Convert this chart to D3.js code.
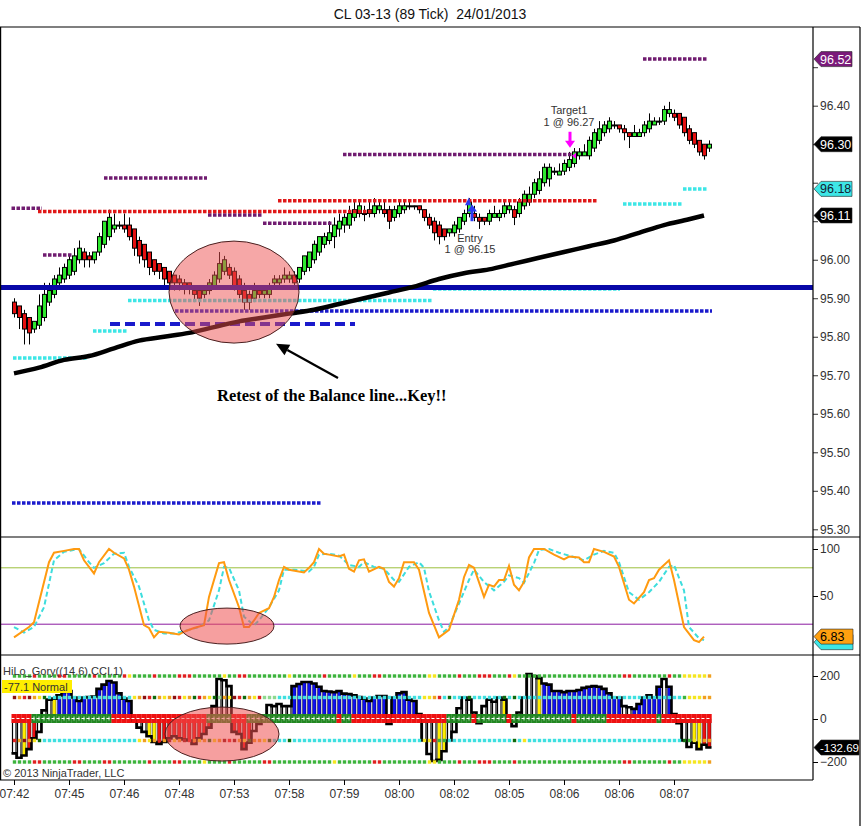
<!DOCTYPE html>
<html><head><meta charset="utf-8">
<script src="https://d3js.org/d3.v7.min.js"></script>
<style>body{margin:0;background:#fff;}svg{display:block;font-family:"Liberation Sans",Arial,sans-serif;}</style>
</head><body><svg id="c" width="863" height="826"></svg>
<script>
// ---------------- DATA ----------------
const title = "CL 03-13 (89 Tick)  24/01/2013";
const barOpen = [95.89,95.88,95.86,95.85,95.82,95.83,95.85,95.89,95.91,95.94,
95.95,95.96,95.97,96.00,96.02,96.01,96.00,96.02,96.04,96.06,
96.08,96.09,96.09,96.09,96.08,96.05,96.04,96.02,96.00,95.99,
95.98,95.97,95.96,95.95,95.94,95.94,95.92,95.92,95.91,95.92,
95.93,95.95,95.97,95.98,95.97,95.95,95.92,95.91,95.90,95.92,
95.91,95.91,95.94,95.94,95.95,95.95,95.96,95.95,95.97,95.98,
96.00,96.02,96.04,96.05,96.06,96.08,96.09,96.09,96.11,96.12,
96.12,96.12,96.12,96.13,96.13,96.13,96.11,96.12,96.13,96.14,
96.14,96.14,96.13,96.11,96.10,96.09,96.08,96.07,96.07,96.08,
96.10,96.12,96.12,96.11,96.11,96.10,96.11,96.11,96.12,96.13,
96.13,96.12,96.14,96.15,96.17,96.18,96.20,96.21,96.23,96.22,
96.23,96.24,96.25,96.27,96.27,96.27,96.29,96.31,96.33,96.34,
96.35,96.35,96.34,96.33,96.32,96.32,96.33,96.34,96.35,96.36,
96.36,96.38,96.38,96.38,96.37,96.34,96.33,96.31,96.30,96.29];
const barHigh = [95.90,95.88,95.87,95.85,95.84,95.91,95.94,95.94,95.96,95.98,
95.99,96.01,96.03,96.05,96.03,96.02,96.02,96.07,96.10,96.13,
96.12,96.10,96.12,96.11,96.08,96.06,96.04,96.02,96.00,95.99,
95.98,95.97,95.96,95.96,95.95,95.94,95.93,95.92,95.93,95.95,
95.97,96.02,96.01,95.99,95.98,95.96,95.94,95.92,95.94,95.92,
95.93,95.94,95.96,95.96,95.98,95.97,95.97,95.98,96.01,96.02,
96.05,96.06,96.07,96.10,96.11,96.12,96.12,96.14,96.15,96.15,
96.14,96.15,96.16,96.15,96.15,96.14,96.14,96.15,96.15,96.15,
96.14,96.14,96.13,96.12,96.11,96.10,96.08,96.08,96.10,96.11,
96.13,96.16,96.14,96.12,96.11,96.13,96.14,96.13,96.15,96.15,
96.14,96.16,96.18,96.19,96.21,96.23,96.25,96.25,96.24,96.25,
96.26,96.28,96.29,96.29,96.30,96.32,96.34,96.36,96.36,96.37,
96.36,96.35,96.35,96.33,96.35,96.34,96.36,96.38,96.37,96.37,
96.40,96.41,96.39,96.38,96.37,96.35,96.33,96.31,96.30,96.31];
const barLow = [95.85,95.82,95.78,95.78,95.81,95.82,95.84,95.88,95.90,95.93,
95.94,95.95,95.96,95.99,95.98,95.98,95.99,96.01,96.03,96.05,
96.07,96.08,96.07,96.05,96.01,95.99,95.98,95.96,95.96,95.95,
95.93,95.92,95.92,95.92,95.91,95.91,95.89,95.88,95.90,95.91,
95.93,95.94,95.96,95.95,95.92,95.90,95.87,95.87,95.89,95.90,
95.90,95.90,95.93,95.93,95.94,95.94,95.93,95.94,95.96,95.97,
95.99,96.01,96.03,96.04,96.03,96.06,96.07,96.08,96.10,96.11,
96.10,96.11,96.11,96.12,96.11,96.08,96.10,96.11,96.12,96.13,
96.13,96.12,96.10,96.08,96.05,96.04,96.05,96.06,96.06,96.07,
96.09,96.11,96.10,96.08,96.09,96.09,96.11,96.10,96.11,96.12,
96.09,96.11,96.13,96.14,96.16,96.17,96.19,96.19,96.22,96.22,
96.22,96.23,96.24,96.26,96.27,96.26,96.28,96.30,96.32,96.33,
96.34,96.33,96.31,96.29,96.32,96.32,96.32,96.33,96.35,96.35,
96.35,96.37,96.36,96.34,96.32,96.30,96.29,96.27,96.26,96.28];
const barClose = [95.86,95.85,95.82,95.81,95.84,95.88,95.91,95.92,95.95,95.96,
95.98,96.00,96.01,96.03,96.00,96.00,96.02,96.06,96.10,96.11,
96.09,96.09,96.08,96.06,96.03,96.01,96.00,95.98,95.97,95.97,
95.95,95.94,95.94,95.94,95.93,95.93,95.91,95.90,95.92,95.94,
95.96,95.99,96.00,95.96,95.93,95.91,95.89,95.89,95.92,95.91,
95.92,95.93,95.95,95.95,95.96,95.96,95.94,95.98,96.01,96.02,
96.04,96.06,96.06,96.07,96.09,96.10,96.11,96.12,96.13,96.14,
96.12,96.13,96.14,96.14,96.12,96.10,96.13,96.14,96.14,96.14,
96.14,96.13,96.11,96.09,96.07,96.06,96.06,96.08,96.09,96.11,
96.12,96.15,96.11,96.10,96.10,96.12,96.12,96.12,96.14,96.14,
96.11,96.15,96.17,96.17,96.20,96.21,96.24,96.24,96.23,96.23,
96.25,96.26,96.28,96.28,96.28,96.31,96.33,96.34,96.35,96.36,
96.35,96.34,96.33,96.32,96.33,96.33,96.35,96.36,96.36,96.36,
96.39,96.39,96.37,96.35,96.33,96.31,96.30,96.28,96.27,96.30];

// moving average (bar, price)
const maLine = [[0,95.705],[5,95.72],[10,95.74],[15,95.75],[20,95.77],[25,95.79],[30,95.80],[35,95.81],[40,95.825],[45,95.84],[50,95.85],[55,95.86],[60,95.87],[65,95.885],[70,95.90],[75,95.915],[80,95.93],[85,95.95],[90,95.965],[95,95.975],[100,95.99],[105,96.005],[110,96.02],[115,96.035],[120,96.05],[125,96.07],[130,96.09],[135,96.105],[138,96.115]];

// horizontal level segments: price, from bar, to bar
const purpleLevels = [[96.134,-0.5,5.6],[96.212,18,38.6],[96.012,5.8,11.6],[96.116,38.8,49.6],[96.095,49.8,63.6],[96.273,65.8,111.8],[96.521,125.8,138.6]];
const redLevels = [[96.125,4.8,71.6],[96.153,52.8,116.6]];
const cyanLevels = [[95.745,-0.2,14.8],[95.815,15.8,22.6],[95.894,22.8,83.6],[95.924,83.8,121.2],[96.145,121.8,133.6],[96.184,133.8,138.6]];
const blueDotLevels = [[95.867,32.2,139.6],[95.368,-0.4,61.6]];
const blueDashLevels = [[95.833,19.2,68.2]];
const balanceLine = 95.928;

const priceTicks = [95.30,95.40,95.50,95.60,95.70,95.80,95.90,96.00,96.10,96.20,96.30,96.40,96.50];
const priceTickLabelsHidden = [96.10,96.20,96.30,96.50]; // covered by the price markers
const priceTags = [{v:96.521,label:"96.52",kind:"purple"},{v:96.30,label:"96.30",kind:"black"},{v:96.184,label:"96.18",kind:"cyan"},{v:96.115,label:"96.11",kind:"black"}];

// stochastics (bar, value)
const stochK = [[0,6],[3,17],[4,22],[7,86],[8,96],[10,98],[12,100],[13,100],[14,88],[16,74],[17,86],[19,100],[20,96],[22,90],[23,78],[24,60],[26,19],[27,16],[28,6],[29,12],[31,11],[33,9],[34,12],[36,16],[38,19],[39,49],[41,85],[42,86],[43,67],[45,38],[46,17],[47,17],[48,24],[49,32],[51,37],[52,49],[53,67],[54,81],[55,78],[58,75],[59,80],[60,86],[61,100],[62,95],[63,94],[65,92],[66,94],[67,79],[68,76],[69,88],[70,89],[71,76],[73,81],[74,79],[75,65],[76,60],[77,69],[78,86],[80,86],[81,78],[83,32],[85,6],[87,14],[89,46],[90,70],[91,83],[92,80],[94,49],[95,62],[96,60],[97,67],[98,67],[99,82],[100,62],[101,56],[102,65],[103,91],[104,100],[106,100],[108,94],[110,89],[111,92],[113,91],[114,86],[115,86],[116,100],[118,97],[120,92],[121,81],[123,46],[124,42],[126,54],[127,67],[128,69],[129,78],[131,88],[132,67],[134,17],[136,3],[137,1],[138,6.83]];
const stochD = [[0,17],[2,11],[4,17],[6,38],[8,88],[10,97],[13,100],[15,86],[16,80],[18,85],[20,95],[22,96],[23,81],[25,60],[27,24],[28,14],[30,10],[32,10],[35,14],[37,17],[39,24],[41,56],[42,81],[43,80],[45,56],[46,28],[48,19],[49,24],[51,38],[53,56],[54,78],[56,78],[59,76],[60,81],[61,94],[63,95],[65,93],[67,83],[69,81],[70,86],[72,81],[74,79],[76,67],[77,65],[79,81],[81,86],[82,80],[83,55],[85,24],[86,12],[87,17],[89,42],[91,67],[92,78],[94,65],[96,56],[98,65],[99,72],[101,69],[102,64],[104,85],[105,99],[107,100],[109,96],[111,93],[114,88],[116,94],[118,98],[120,96],[121,86],[123,54],[125,46],[127,54],[129,65],[131,81],[132,83],[134,56],[135,17],[137,5],[138,3]];
const stochLevels = [80,20];
const stochTicks = [50,100];

// HiLo_Gory CCI histogram
const cciVals = [-160,-180,-170,-140,-90,-60,40,90,95,110,
126,130,100,84,100,102,105,140,160,177,
170,120,95,84,-10,-40,-60,-80,-107,-116,
-107,-90,-80,-90,-95,-100,-116,-90,-70,-40,
60,186,180,153,-60,-70,-140,-110,-56,-23,
9,65,60,70,60,60,153,163,172,172,
165,150,130,128,125,130,118,116,110,102,
95,84,100,107,107,-23,100,120,125,90,
84,23,-100,-163,-195,-190,-150,-100,-60,50,
100,90,30,-20,60,90,80,100,90,-10,
-33,30,100,209,200,190,165,160,130,130,
125,130,130,135,145,150,153,150,140,120,
100,100,60,55,47,70,100,110,100,150,
186,150,23,-20,-100,-130,-110,-140,-120,-132.69];
const cciColors = "KKYRRKKKYB"+"BBBBBBBBBB"+"BBBBKKKYYR"+"RRRRRRRRRR"+"KKKKRRRRKR"+"KKKKKKBBBB"+"BBBBBBBBBB"+"BBBBBKBBBB"+"BKKKKYYKKK"+"KKKKKKKKYR"+"KKKKKYBBBB"+"BBBBBBBBBB"+"BBKKBBBBBB"+"KBKKKKYYRR";
const zeroBand = "rrrrgggggg"+"gggggggggg"+"rrrrrrrrrr"+"rrrrrrrrrg"+"ggggrrrggg"+"gggggggggg"+"gggggrggrr"+"rrrrrrrrrr"+"rrrrrrrggg"+"ggrggggggr"+"gggggggggg"+"ggrggggggr"+"rrrrrrrrrg"+"rrrrrrrrrr";
const dotRowLevels = [200,100,-100,-200];
const dotRows = [
 "ggggrggggr"+"rgggggrggg"+"ggryggggrg"+"gggrrrgggg"+"ggyggrrggg"+"gggggygggg"+"ggrgggggyg"+"ggrrgggggg"+"gggyyggggr"+"gggrrrgggr"+"yggggggggg"+"gggggggggg"+"ggrrgggggg"+"grggyyyyyo",
 "RorRoyGccc"+"cccccccccc"+"ccccyoRrGo"+"yoRryoGroy"+"GloyRrGoyr"+"lllccccccc"+"cccccccccc"+"cccccccccc"+"ccyyorcGcc"+"cGccccccGc"+"Gccccccccc"+"cccccccccc"+"cccccccccc"+"ccccgyyyoo",
 "roRoyGcccc"+"cccccccccc"+"cccccyoyor"+"oRyoRroyoG"+"yoRrRoyGoo"+"yGcccGcccc"+"cccccccccc"+"cccccccccc"+"ccyyrggccc"+"cccccccccc"+"Gcyccccccc"+"cccccccccc"+"cccccccccc"+"ccccGgyyoo",
 "ggggrrgggg"+"ggrrggggrr"+"gggggggrgg"+"ggrrggggyg"+"gggrgggggg"+"rrgggggggg"+"ggggyggggg"+"ggrrgggggg"+"gggyyggggr"+"gggrrrgggg"+"rggggggggg"+"gggggggggg"+"ggrrgggggg"+"grggyyyyyo"];
const cciTicks = [-200,0,200];

const timeBars = [0,11,22,33,44,55,66,77,88,99,110,121,132];
const timeLabels = ["07:42","07:45","07:46","07:48","07:53","07:58","07:59","08:00","08:02","08:05","08:06","08:06","08:07"];

// ---------------- SCALES ----------------
const x = d3.scaleLinear().domain([0,139]).range([14,709]);
const yP = d3.scaleLinear().domain([95.30,96.40]).range([529.3,105.7]);
const yS = d3.scaleLinear().domain([0,100]).range([643,549]);
const yC = d3.scaleLinear().domain([-200,200]).range([762,676]);
const AX = 813, RIGHT = 860;

const svg = d3.select('#c');
svg.append('rect').attr('width',863).attr('height',826).attr('fill','#fff');
const defs = svg.append('defs');
[['clipMain',27,510],['clipStoch',537,118],['clipCci',655,125]].forEach(([id,y0,h])=>{
  defs.append('clipPath').attr('id',id).append('rect').attr('x',1).attr('y',y0).attr('width',AX-1).attr('height',h);
});

svg.append('text').attr('x',430).attr('y',19).attr('text-anchor','middle').attr('font-size',14)
  .style('white-space','pre').attr('fill','#111').text(title);

// ---------------- MAIN PANEL ----------------
const gm = svg.append('g').attr('clip-path','url(#clipMain)');
const idx = d3.range(barClose.length);
gm.selectAll('line.wick').data(idx).join('line').attr('class','wick')
  .attr('x1',i=>x(i)+0.5).attr('x2',i=>x(i)+0.5)
  .attr('y1',i=>yP(barHigh[i])).attr('y2',i=>yP(barLow[i]))
  .attr('stroke','#000').attr('stroke-width',1);
gm.selectAll('rect.body').data(idx).join('rect').attr('class','body')
  .attr('x',i=>x(i)-1.5).attr('width',4)
  .attr('y',i=>yP(Math.max(barOpen[i],barClose[i])))
  .attr('height',i=>Math.max(1,Math.abs(yP(barOpen[i])-yP(barClose[i]))))
  .attr('fill',i=>barClose[i]>barOpen[i]?'#2ee82e':(barClose[i]<barOpen[i]?'#e41010':'#000'))
  .attr('stroke','#000').attr('stroke-width',1);

function levels(arr,col,w,dash){
  gm.selectAll(null).data(arr).join('line')
   .attr('x1',d=>x(d[1])).attr('x2',d=>x(d[2]))
   .attr('y1',d=>yP(d[0])).attr('y2',d=>yP(d[0]))
   .attr('stroke',col).attr('stroke-width',w).attr('stroke-dasharray',dash);
}
levels(purpleLevels,'#701c70',3.5,'3.5,1.5');
levels(redLevels,'#e01818',3.5,'3.5,1.5');
levels(cyanLevels,'#3de6e6',3.5,'3.5,1.5');
levels(blueDotLevels,'#1a1acc',3.5,'3.5,1.5');
levels(blueDashLevels,'#1a1acc',4,'10,5');
gm.append('line').attr('x1',1).attr('x2',AX).attr('y1',yP(balanceLine)).attr('y2',yP(balanceLine))
  .attr('stroke','#0808a8').attr('stroke-width',5);
gm.append('path').datum(maLine).attr('fill','none').attr('stroke','#000').attr('stroke-width',4.5)
  .attr('d',d3.line().x(d=>x(d[0])).y(d=>yP(d[1])).curve(d3.curveMonotoneX));

// entry / target markers
const entryBar = 91, targetBar = 111;
const ex = x(entryBar), tx = x(targetBar)+1;
gm.append('path').attr('d',`M${ex-4},${yP(96.152)+4} L${ex},${yP(96.152)-4} L${ex+2},${yP(96.152)+4} Z`).attr('fill','#2a3af0');
gm.append('line').attr('x1',ex+3).attr('x2',ex+3).attr('y1',yP(96.10)).attr('y2',yP(96.13)).attr('stroke','#2a3af0').attr('stroke-width',3);
gm.append('path').attr('d',`M${ex-2},${yP(96.125)} L${ex+3},${yP(96.125)-7} L${ex+8},${yP(96.125)} Z`).attr('fill','#2a3af0');
gm.append('text').attr('x',ex+1).attr('y',yP(96.15)+40).attr('text-anchor','middle').attr('font-size',11).attr('fill','#333').text('Entry');
gm.append('text').attr('x',ex+1).attr('y',yP(96.15)+51).attr('text-anchor','middle').attr('font-size',11).attr('fill','#333').text('1 @ 96.15');
gm.append('line').attr('x1',tx).attr('x2',tx).attr('y1',yP(96.27)-24).attr('y2',yP(96.27)-14).attr('stroke','#ff00ff').attr('stroke-width',3);
gm.append('path').attr('d',`M${tx-5},${yP(96.27)-15} L${tx+5},${yP(96.27)-15} L${tx},${yP(96.27)-8} Z`).attr('fill','#ff00ff');
gm.append('path').attr('d',`M${tx+2},${yP(96.27)} L${tx+6},${yP(96.27)-3} L${tx+6},${yP(96.27)+3} Z`).attr('fill','#ff00ff');
gm.append('text').attr('x',tx-1).attr('y',yP(96.27)-42).attr('text-anchor','middle').attr('font-size',11).attr('fill','#333').text('Target1');
gm.append('text').attr('x',tx-1).attr('y',yP(96.27)-30).attr('text-anchor','middle').attr('font-size',11).attr('fill','#333').text('1 @ 96.27');

// highlight ellipse + annotation
gm.append('ellipse').attr('cx',x(44)).attr('cy',yP(95.916)).attr('rx',65).attr('ry',51)
  .attr('fill','#ee5050').attr('fill-opacity',0.5).attr('stroke','#4a2020').attr('stroke-width',1);
const arrowTail=[x(64.8),yP(95.693)], arrowTip=[x(52.4),yP(95.782)];
{
  const dx=arrowTip[0]-arrowTail[0], dy=arrowTip[1]-arrowTail[1], L=Math.hypot(dx,dy), ux=dx/L, uy=dy/L;
  const bx=arrowTip[0]-ux*13, by=arrowTip[1]-uy*13;
  gm.append('line').attr('x1',arrowTail[0]).attr('y1',arrowTail[1]).attr('x2',bx).attr('y2',by).attr('stroke','#000').attr('stroke-width',2.2);
  gm.append('path').attr('d',`M${arrowTip[0]},${arrowTip[1]} L${bx-uy*6},${by+ux*6} L${bx+uy*6},${by-ux*6} Z`).attr('fill','#000');
}
gm.append('text').attr('x',x(40.6)).attr('y',yP(95.633)).attr('font-family','"Liberation Serif","Times New Roman",serif')
  .attr('font-weight','bold').attr('font-size',16.5).attr('fill','#000').text('Retest of the Balance line...Key!!');

// price axis
const pa = svg.append('g').attr('transform',`translate(${AX},0)`)
  .call(d3.axisRight(yP).tickValues(priceTicks)
    .tickFormat(d=>priceTickLabelsHidden.some(h=>Math.abs(h-d)<1e-6)?'':d3.format('.2f')(d))
    .tickSize(5).tickPadding(2));
pa.select('.domain').remove();
pa.selectAll('text').attr('font-size',12).attr('fill','#333').attr('font-family','"Liberation Sans",Arial,sans-serif');
pa.selectAll('line').attr('stroke','#333');

function tag(yv,label,fill,txt,w,fs){
  const h=15, g=svg.append('g');
  g.append('path').attr('d',`M${AX+1},${yv} L${AX+8},${yv-h/2} L${AX+w},${yv-h/2} L${AX+w},${yv+h/2} L${AX+8},${yv+h/2} Z`)
    .attr('fill',fill).attr('stroke','#222').attr('stroke-width',0.6);
  if(label) g.append('text').attr('x',AX+7).attr('y',yv+4.5).attr('font-size',fs||12.5).attr('fill',txt).text(label);
}
const tagStyle = {purple:['#7a1a7a','#fff'],black:['#000','#fff'],cyan:['#3de6e6','#123']};
priceTags.forEach(t=>tag(yP(t.v),t.label,tagStyle[t.kind][0],tagStyle[t.kind][1],39));

// ---------------- STOCHASTICS ----------------
const gs = svg.append('g').attr('clip-path','url(#clipStoch)');
gs.append('line').attr('x1',1).attr('x2',AX).attr('y1',yS(stochLevels[0])).attr('y2',yS(stochLevels[0])).attr('stroke','#9cbf3c').attr('stroke-width',1);
gs.append('line').attr('x1',1).attr('x2',AX).attr('y1',yS(stochLevels[1])).attr('y2',yS(stochLevels[1])).attr('stroke','#8a1aa0').attr('stroke-width',1);
const sl = d3.line().x(d=>x(d[0])).y(d=>yS(d[1]));
gs.append('path').datum(stochD).attr('d',sl).attr('fill','none').attr('stroke','#3ddddd').attr('stroke-width',2).attr('stroke-dasharray','5,3');
gs.append('path').datum(stochK).attr('d',sl).attr('fill','none').attr('stroke','#ff9a10').attr('stroke-width',2);
gs.append('ellipse').attr('cx',x(42.6)).attr('cy',yS(18)).attr('rx',47).attr('ry',18)
  .attr('fill','#ee5050').attr('fill-opacity',0.55).attr('stroke','#4a2020').attr('stroke-width',1);
const sa = svg.append('g').attr('transform',`translate(${AX},0)`)
  .call(d3.axisRight(yS).tickValues(stochTicks).tickSize(5).tickPadding(2));
sa.select('.domain').remove();
sa.selectAll('text').attr('font-size',12).attr('fill','#333').attr('font-family','"Liberation Sans",Arial,sans-serif');
tag(yS(stochD[stochD.length-1][1])+2,'','#3de6e6','#000',40);
tag(yS(stochK[stochK.length-1][1]),'6.83','#ffa010','#000',40);

// ---------------- CCI PANEL ----------------
const gc = svg.append('g').attr('clip-path','url(#clipCci)');
const colMap = {B:'#1010ee',R:'#ee1010',Y:'#ffee00',K:'#fff'};
gc.selectAll('rect.h').data(idx).join('rect').attr('class','h')
  .attr('x',i=>x(i)-1.5).attr('width',3.5)
  .attr('y',i=>Math.min(yC(0),yC(cciVals[i]))).attr('height',i=>Math.abs(yC(cciVals[i])-yC(0)))
  .attr('fill',i=>colMap[cciColors[i]]).attr('stroke','#000').attr('stroke-width',i=>cciColors[i]==='K'?1.2:0.4);
const envPts = idx.map(i=>[x(i)-2.5,cciVals[i]]).concat([[x(139)+2.5,cciVals[139]]]);
gc.append('path').datum(envPts).attr('fill','none').attr('stroke','#000').attr('stroke-width',2.6)
  .attr('d',d3.line().x(d=>d[0]).y(d=>yC(d[1])).curve(d3.curveStepAfter));
const dotCol = {g:'#3cb43c',G:'#0d6b0d',r:'#e02020',R:'#8b1010',y:'#f5e61e',o:'#f0a020',c:'#3ee0e0',l:'#8ed88e'};
dotRows.forEach((row,r)=>{
  gc.selectAll(null).data(idx).join('rect')
   .attr('x',i=>x(i)-1.2).attr('y',yC(dotRowLevels[r])-1.7).attr('width',3.4).attr('height',3.4)
   .attr('fill',i=>dotCol[row[i]]||'#3cb43c');
});
gc.selectAll('rect.band').data(idx).join('rect').attr('class','band')
  .attr('x',i=>x(i)-2.5).attr('width',5.2).attr('y',yC(0)-5).attr('height',9)
  .attr('fill',i=>zeroBand[i]==='g'?'#228822':'#ee1111');
gc.append('line').attr('x1',x(0)-2.5).attr('x2',x(139)+2.5).attr('y1',yC(0)-0.5).attr('y2',yC(0)-0.5)
  .attr('stroke','#fff').attr('stroke-width',1).attr('stroke-dasharray','3,2');
gc.selectAll('line.plus').data(idx.filter(i=>zeroBand[i]==='g')).join('line').attr('class','plus')
  .attr('x1',i=>x(i)).attr('x2',i=>x(i)).attr('y1',yC(0)-2.5).attr('y2',yC(0)+1.5)
  .attr('stroke','#fff').attr('stroke-width',0.8);
gc.append('ellipse').attr('cx',x(41.6)).attr('cy',yC(-70)).attr('rx',57).attr('ry',27)
  .attr('fill','#ee5050').attr('fill-opacity',0.55).attr('stroke','#4a2020').attr('stroke-width',1);
svg.append('text').attr('x',3).attr('y',675).attr('font-size',11).attr('fill','#333').text('HiLo_Gory((14,6),CCI,1)');
svg.append('rect').attr('x',2).attr('y',680).attr('width',70).attr('height',13).attr('fill','#ffee00');
svg.append('text').attr('x',4).attr('y',690.5).attr('font-size',11).attr('fill','#333').text('-77.1 Normal');
svg.append('text').attr('x',3).attr('y',777).attr('font-size',11).attr('fill','#333').text('\u00a9 2013 NinjaTrader, LLC');
const ca = svg.append('g').attr('transform',`translate(${AX},0)`)
  .call(d3.axisRight(yC).tickValues(cciTicks).tickSize(5).tickPadding(2));
ca.select('.domain').remove();
ca.selectAll('text').attr('font-size',12).attr('fill','#333').attr('font-family','"Liberation Sans",Arial,sans-serif');
tag(yC(cciVals[139]),'-132.69','#000','#fff',46,11.5);

// ---------------- TIME AXIS ----------------
const xa = svg.append('g').attr('transform','translate(0,780)')
  .call(d3.axisBottom(x).tickValues(timeBars).tickFormat((d,i)=>timeLabels[i]).tickSize(5).tickPadding(4));
xa.select('.domain').remove();
xa.selectAll('text').attr('font-size',12).attr('fill','#333').attr('font-family','"Liberation Sans",Arial,sans-serif');

// ---------------- FRAME ----------------
const fr = svg.append('g').attr('stroke','#000').attr('stroke-width',1.2);
fr.append('line').attr('x1',0).attr('x2',RIGHT).attr('y1',27).attr('y2',27);
fr.append('line').attr('x1',0.6).attr('x2',0.6).attr('y1',27).attr('y2',780);
fr.append('line').attr('x1',AX).attr('x2',AX).attr('y1',27).attr('y2',780);
fr.append('line').attr('x1',RIGHT).attr('x2',RIGHT).attr('y1',27).attr('y2',826);
fr.append('line').attr('x1',0).attr('x2',RIGHT).attr('y1',537).attr('y2',537);
fr.append('line').attr('x1',0).attr('x2',RIGHT).attr('y1',655).attr('y2',655);
fr.append('line').attr('x1',0).attr('x2',AX).attr('y1',780).attr('y2',780);
</script></body></html>
